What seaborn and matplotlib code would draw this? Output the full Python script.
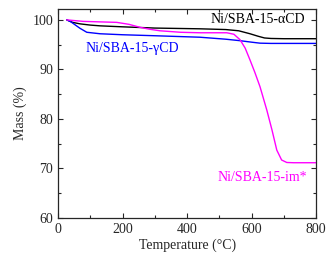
import numpy as np
import pandas as pd
import matplotlib
matplotlib.use("Agg")
import matplotlib.pyplot as plt
import seaborn as sns
from matplotlib.ticker import MultipleLocator

sns.set_style("ticks")
plt.rcParams['font.family'] = ['Liberation Serif', 'DejaVu Serif']

# temperatures (C) and mass (%)
temp_a = [27, 45, 68, 100, 130, 200, 300, 440, 520, 560, 595, 620, 640, 660, 700, 800]
mass_a = [100, 99.5, 99.2, 98.95, 98.8, 98.6, 98.35, 98.2, 98.05, 97.8, 97.2, 96.7, 96.35, 96.25, 96.2, 96.2]

temp_g = [27, 40, 55, 68, 89, 130, 200, 300, 440, 520, 564, 600, 626, 660, 800]
mass_g = [100, 99.6, 98.9, 98.3, 97.5, 97.2, 97.0, 96.8, 96.5, 96.1, 95.8, 95.5, 95.3, 95.25, 95.25]

temp_i = [27, 78, 130, 182, 220, 254, 285, 316, 380, 440, 523, 545, 564, 580, 595, 610, 626, 647, 663, 678, 693, 709, 730, 800]
mass_i = [100, 99.7, 99.6, 99.5, 99.1, 98.5, 98.1, 97.8, 97.5, 97.4, 97.4, 97.1, 96.0, 94.3, 91.9, 89.4, 86.5, 81.8, 77.8, 73.7, 71.7, 71.2, 71.15, 71.15]

df = pd.concat([
    pd.DataFrame({'T': temp_a, 'm': mass_a, 's': 'a'}),
    pd.DataFrame({'T': temp_g, 'm': mass_g, 's': 'g'}),
    pd.DataFrame({'T': temp_i, 'm': mass_i, 's': 'i'}),
])
cols = {'a': '#000000', 'g': '#0000ff', 'i': '#ff00ff'}

fig = plt.figure(figsize=(3.3, 2.61), dpi=100)
ax = fig.add_axes([0.176, 0.165, 0.782, 0.8005])
sns.lineplot(data=df, x='T', y='m', hue='s', palette=cols, ax=ax, legend=False,
             linewidth=1.0, sort=False)

ax.set_xlim(0, 800)
ax.set_ylim(60, 102.2)
ax.xaxis.set_major_locator(MultipleLocator(200))
ax.xaxis.set_minor_locator(MultipleLocator(100))
ax.yaxis.set_major_locator(MultipleLocator(10))
ax.yaxis.set_minor_locator(MultipleLocator(5))
ax.tick_params(which='both', direction='in', top=True, right=True, labelsize=10, width=0.8)
ax.tick_params(which='major', length=3.5)
ax.tick_params(which='minor', length=2)
for s in ax.spines.values():
    s.set_linewidth(0.9)
ax.set_xlabel('Temperature (°C)', fontsize=10, labelpad=2)
ax.set_ylabel('Mass (%)', fontsize=10, labelpad=4)

ax.text(766, 100.1, 'Ni/SBA-15-αCD', color='black', fontsize=10, ha='right', va='center')
ax.text(84, 94.3, 'Ni/SBA-15-γCD', color='#0000ff', fontsize=10, ha='left', va='center')
ax.text(772, 68.1, 'Ni/SBA-15-im*', color='#ff00ff', fontsize=10, ha='right', va='center')

fig.savefig('out.png', dpi=100)
